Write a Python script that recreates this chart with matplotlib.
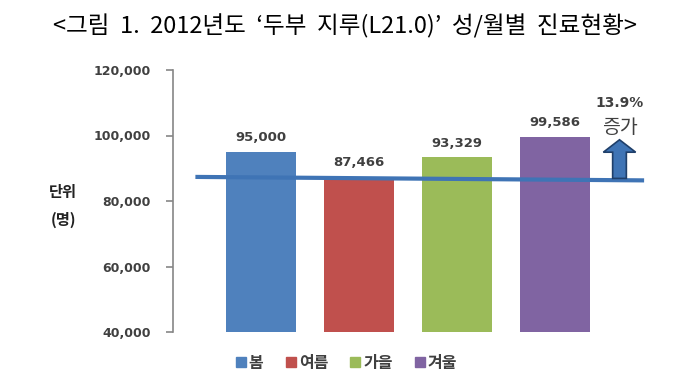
import matplotlib
matplotlib.use("Agg")
import matplotlib.pyplot as plt
from matplotlib.lines import Line2D
from matplotlib.patches import FancyArrow

plt.rcParams['font.family'] = ['Noto Sans CJK KR', 'DejaVu Sans']

categories = ['봄', '여름', '가을', '겨울']
values = [95000, 87466, 93329, 99586]
value_labels = ['95,000', '87,466', '93,329', '99,586']
colors = ['#4F81BD', '#C0504D', '#9BBB59', '#8064A2']
yticks = [40000, 60000, 80000, 100000, 120000]
ytick_labels = ['40,000', '60,000', '80,000', '100,000', '120,000']
trend_x = [-0.65, 3.89]
trend_y = [87350, 86300]
arrow_x = 3.66
arrow_base = 86900
arrow_tip = 98700
increase_pct = '13.9%'
increase_word = '증가'
title = "<그림  1.  2012년도  \u2018두부  지루(L21.0)\u2019  성/월별  진료현황>"

fig = plt.figure(figsize=(6.95, 3.92), dpi=100)
ax = fig.add_axes([173/695, 1-332/392, (643-173)/695, (332-70)/392])

x = list(range(len(categories)))
ax.bar(x, [v - 40000 for v in values], bottom=40000, width=0.72, color=colors, zorder=2)
ax.set_xlim(-0.9, 3.9)
ax.set_ylim(40000, 120000)

for xi, v, lab in zip(x, values, value_labels):
    ax.text(xi, v + 4300, lab, ha='center', va='center', fontsize=9.5,
            fontweight='bold', color='#404040', family='DejaVu Sans')

ax.set_yticks(yticks)
ax.set_yticklabels(ytick_labels, fontsize=9, fontweight='bold', color='#404040',
                   family='DejaVu Sans')
ax.set_xticks([])
for s in ['top', 'right', 'bottom']:
    ax.spines[s].set_visible(False)
ax.spines['left'].set_color('#868686')
ax.spines['left'].set_linewidth(1.2)
ax.tick_params(axis='y', direction='out', length=5, color='#868686', width=1.2, pad=11)

# trend line
ax.plot(trend_x, trend_y, color='#3F74B5', lw=3, zorder=3, clip_on=False)

# arrow
arr = FancyArrow(arrow_x, arrow_base, 0, arrow_tip - arrow_base, width=0.14,
                 head_width=0.33, head_length=3800, length_includes_head=True,
                 facecolor='#3F74B5', edgecolor='#1F3F6A', lw=1.2, zorder=4, clip_on=False)
ax.add_patch(arr)

ax.text(arrow_x, 109900, increase_pct, ha='center', va='center', fontsize=10,
        fontweight='bold', color='#404040', family='DejaVu Sans')
ax.text(arrow_x, 102300, increase_word, ha='center', va='center', fontsize=14,
        color='#404040')

fig.text(63/695, 1-192/392, '단위', ha='center', va='center', fontsize=11,
         fontweight='bold', color='#222222')
fig.text(63/695, 1-220/392, '(명)', ha='center', va='center', fontsize=11,
         fontweight='bold', color='#222222')

fig.text(345/695, 1-26/392, title, ha='center', va='center', fontsize=17, color='black')

handles = [Line2D([], [], marker='s', linestyle='none', markersize=7,
                  markerfacecolor=c, markeredgecolor=c) for c in colors]
leg = fig.legend(handles, categories, loc='center', bbox_to_anchor=(346/695, 1-363/392),
                 ncol=4, frameon=False, handletextpad=0.1, columnspacing=1.3,
                 handlelength=0.8, prop={'size': 11.5, 'weight': 'bold'})
for t in leg.get_texts():
    t.set_color('#404040')

fig.savefig('out.png', dpi=100, facecolor='white')
